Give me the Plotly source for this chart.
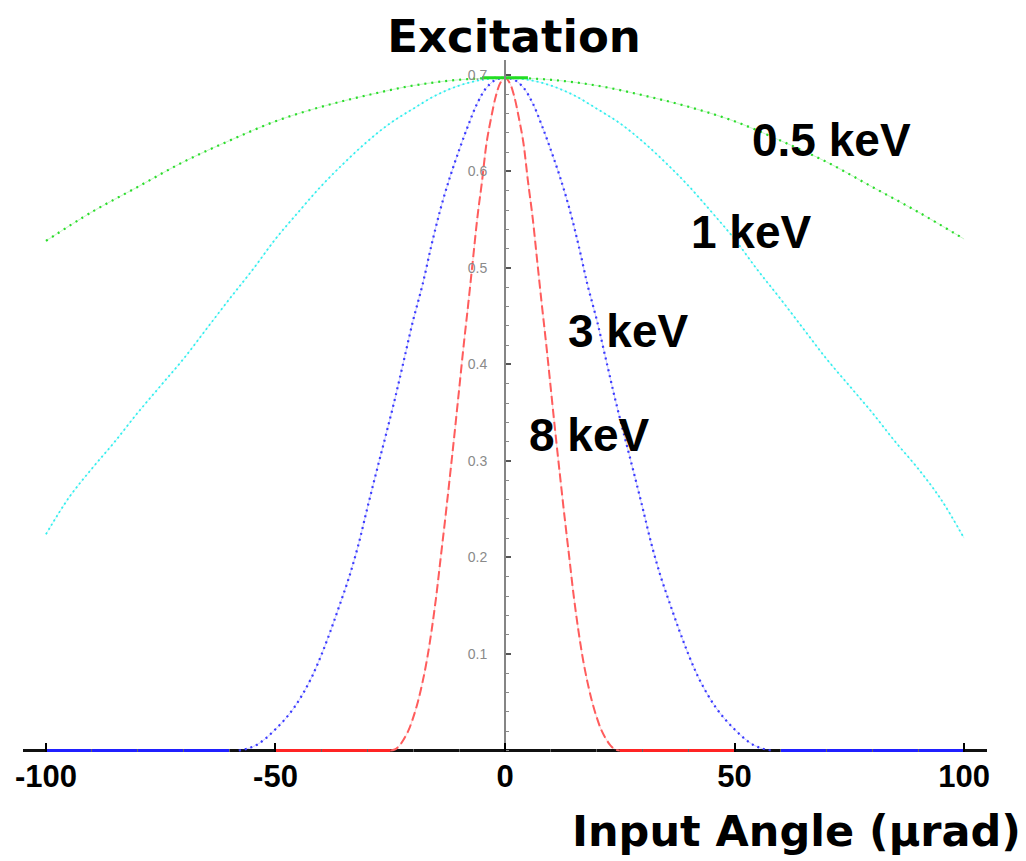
import plotly.graph_objects as go

# Excitation vs input angle for four photon energies
GREEN_X = [-100, -90, -80, -70, -60, -50, -40, -30, -20, -10, 0,
           10, 20, 30, 40, 50, 60, 70, 80, 90, 100]
GREEN_Y = [0.528, 0.558, 0.584, 0.610, 0.632, 0.652, 0.667, 0.679, 0.689, 0.695, 0.697,
           0.695, 0.689, 0.679, 0.667, 0.652, 0.632, 0.610, 0.584, 0.558, 0.530]

CYAN_X = [-100, -95, -90, -85, -80, -75, -70, -65, -60, -55, -50, -45, -40, -35, -30,
          -25, -20, -15, -10, -5, 0, 5, 10, 15, 20, 25, 30, 35, 40, 45, 50, 55, 60,
          65, 70, 75, 80, 85, 90, 95, 100]
CYAN_Y = [0.224, 0.262, 0.292, 0.320, 0.350, 0.378, 0.406, 0.437, 0.468, 0.498, 0.530,
          0.558, 0.585, 0.609, 0.631, 0.650, 0.665, 0.679, 0.689, 0.695, 0.697, 0.695,
          0.689, 0.679, 0.665, 0.650, 0.631, 0.609, 0.585, 0.558, 0.530, 0.498, 0.468,
          0.437, 0.406, 0.378, 0.350, 0.320, 0.292, 0.260, 0.220]

BLUE_X = [-58, -56, -54, -52, -50, -48, -46, -44, -42, -40, -38, -36, -34, -32, -30,
          -28, -26, -24, -22, -20, -18, -16, -14, -12, -10, -8, -6, -4, -2, 0,
          2, 4, 6, 8, 10, 12, 14, 16, 18, 20, 22, 24, 26, 28, 30, 32, 34, 36, 38,
          40, 42, 44, 46, 48, 50, 52, 54, 56, 58]
BLUE_Y = [0.000, 0.002, 0.006, 0.013, 0.022, 0.032, 0.044, 0.059, 0.077, 0.099, 0.124,
          0.151, 0.179, 0.212, 0.251, 0.289, 0.326, 0.364, 0.405, 0.446, 0.482, 0.524,
          0.562, 0.594, 0.622, 0.648, 0.671, 0.687, 0.695, 0.697,
          0.695, 0.687, 0.671, 0.648, 0.622, 0.594, 0.562, 0.524, 0.482, 0.446, 0.405,
          0.364, 0.326, 0.289, 0.251, 0.212, 0.179, 0.151, 0.124, 0.099, 0.077, 0.059,
          0.044, 0.032, 0.022, 0.013, 0.006, 0.002, 0.000]

RED_X = [-25, -24, -23, -22, -21, -20, -19, -18, -17, -16, -15, -14, -13, -12, -11,
         -10, -9, -8, -7, -6, -5, -4, -3, -2, -1, 0, 1, 2, 3, 4, 5, 6, 7, 8, 9, 10,
         11, 12, 13, 14, 15, 16, 17, 18, 19, 20, 21, 22, 23, 24, 25]
RED_Y = [0.000, 0.001, 0.005, 0.012, 0.021, 0.034, 0.050, 0.070, 0.094, 0.124, 0.159,
         0.200, 0.241, 0.284, 0.328, 0.374, 0.420, 0.463, 0.508, 0.553, 0.590, 0.630,
         0.656, 0.678, 0.692, 0.697, 0.692, 0.678, 0.656, 0.630, 0.590, 0.553, 0.508,
         0.463, 0.420, 0.374, 0.328, 0.284, 0.241, 0.200, 0.159, 0.124, 0.094, 0.070,
         0.050, 0.034, 0.021, 0.012, 0.005, 0.001, 0.000]

# zero-level stretches drawn solid, and the flat top of the 0.5 keV curve
BLUE_FLAT_X = [-100, -60, None, 60, 100]
BLUE_FLAT_Y = [0, 0, None, 0, 0]
RED_FLAT_X = [-50, -25, None, 25, 50]
RED_FLAT_Y = [0, 0, None, 0, 0]
GREEN_TOP_X = [-5, 5]
GREEN_TOP_Y = [0.697, 0.697]

LABELS = ["0.5 keV", "1 keV", "3 keV", "8 keV"]
LABEL_X = [71.2, 53.6, 27.0, 18.3]
LABEL_Y = [0.633, 0.537, 0.435, 0.327]

X_TICKS = [-100, -50, 0, 50, 100]
Y_TICKS = [0.1, 0.2, 0.3, 0.4, 0.5, 0.6, 0.7]

GREEN = "#2bdc2b"
CYAN = "#33eeee"
BLUE = "#3a3aff"
RED = "#ff5c5c"

fig = go.Figure()


def curve(x, y, color, dash, width):
    # faint continuous underlay, then the dotted/dashed stroke on top
    fig.add_trace(go.Scatter(x=x, y=y, mode="lines", line=dict(color=color, width=1, shape="spline"),
                             opacity=0.25, hoverinfo="skip", showlegend=False))
    fig.add_trace(go.Scatter(x=x, y=y, mode="lines",
                             line=dict(color=color, width=width, dash=dash, shape="spline"),
                             showlegend=False))


curve(GREEN_X, GREEN_Y, GREEN, "2px,5px", 2.2)
curve(CYAN_X, CYAN_Y, CYAN, "2px,3px", 1.8)
curve(BLUE_X, BLUE_Y, BLUE, "2px,4px", 2.2)
curve(RED_X, RED_Y, RED, "9px,4px", 2)

fig.add_trace(go.Scatter(x=GREEN_TOP_X, y=GREEN_TOP_Y, mode="lines",
                         line=dict(color="#22dd22", width=3), showlegend=False))
fig.add_trace(go.Scatter(x=BLUE_FLAT_X, y=BLUE_FLAT_Y, mode="lines",
                         line=dict(color="#2020ff", width=3), showlegend=False))
fig.add_trace(go.Scatter(x=RED_FLAT_X, y=RED_FLAT_Y, mode="lines",
                         line=dict(color="#ff2424", width=3), showlegend=False))

for text, lx, ly in zip(LABELS, LABEL_X, LABEL_Y):
    fig.add_annotation(x=lx, y=ly, xref="x", yref="y", text=f"<b>{text}</b>", showarrow=False,
                       xanchor="center", yanchor="middle",
                       font=dict(family="Liberation Sans, Arial", size=46, color="black"))

fig.add_annotation(x=0.8024, y=-0.114, xref="paper", yref="paper",
                   text="<b>Input Angle (µrad)</b>", showarrow=False,
                   xanchor="center", yanchor="middle",
                   font=dict(family="DejaVu Sans", size=43, color="black"))

fig.update_layout(
    width=1026, height=861,
    margin=dict(l=23, r=39, t=60, b=109),
    paper_bgcolor="white", plot_bgcolor="white",
    title=dict(text="<b>Excitation</b>", xref="container", yref="container",
               x=0.501, y=1 - 36 / 861, xanchor="center", yanchor="middle",
               font=dict(family="DejaVu Sans", size=45, color="black")),
    showlegend=False,
)

fig.update_xaxes(
    range=[-105, 105], showgrid=False, zeroline=False, showline=False,
    tickmode="array", tickvals=X_TICKS, ticktext=[str(v) for v in X_TICKS],
    ticks="inside", ticklen=9, tickwidth=2, tickcolor="black",
    ticklabelstandoff=3,
    tickfont=dict(family="Liberation Sans, Arial", size=31, color="black", weight="bold"),
    minor=dict(ticks="inside", dtick=10, tick0=0, ticklen=3, tickwidth=1, tickcolor="#666"),
)

fig.update_yaxes(
    range=[-0.0016, 0.7155], showgrid=False,
    zeroline=True, zerolinecolor="#111", zerolinewidth=3,
    anchor="free", position=0.5, showline=True, linecolor="#858585", linewidth=2,
    tickmode="array", tickvals=Y_TICKS, ticktext=[f"{v:.1f}" for v in Y_TICKS],
    ticks="inside", ticklen=5, tickwidth=2, tickcolor="#555",
    ticklabelstandoff=14,
    tickfont=dict(family="Liberation Sans, Arial", size=14, color="#8a8a8a"),
    minor=dict(ticks="inside", dtick=0.02, tick0=0, ticklen=3, tickwidth=1, tickcolor="#888"),
)

fig.write_html("out.html")
